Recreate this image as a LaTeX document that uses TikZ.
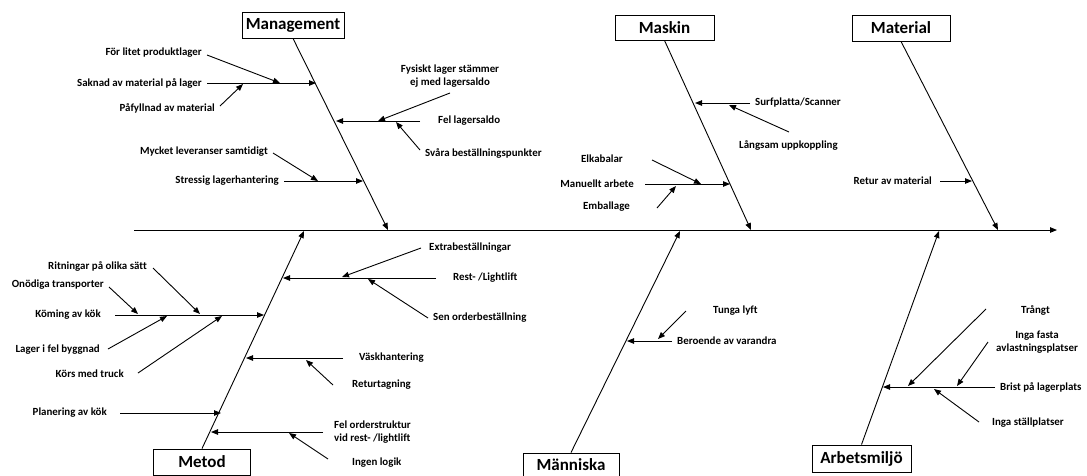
\documentclass[tikz,border=0pt]{standalone}
\usepackage{fontspec}
\setmainfont{Carlito}[Ligatures={NoCommon,NoRequired,NoContextual}]
\usetikzlibrary{arrows.meta}
\begin{document}
\begin{tikzpicture}[x=1pt,y=-1pt,
  line/.style={line width=0.9pt},
  arr/.style={line, -{Triangle[length=7pt,width=5.5pt]}},
  cat/.style={draw, line width=0.9pt, inner sep=0pt, font=\bfseries\fontsize{17}{19}\selectfont},
  lbl/.style={inner sep=0pt, font=\bfseries\fontsize{10.9}{13}\selectfont},
]
\useasboundingbox (0,0) rectangle (1087,475);

% category boxes
\node[cat, minimum width=102pt, minimum height=26pt] (mgmt) at (293,25) {Management};
\node[cat, minimum width=99pt, minimum height=25pt] (mask) at (664.5,27.5) {Maskin};
\node[cat, minimum width=98pt, minimum height=26pt] (matr) at (901,28) {Material};
\node[cat, minimum width=97pt, minimum height=26pt] (meto) at (202,462) {Metod};
\node[cat, minimum width=96pt, minimum height=24pt] (mann) at (571,465) {Människa};
\node[cat, minimum width=99pt, minimum height=27pt] (arbm) at (861.5,458.5) {Arbetsmiljö};

% main spine
\coordinate (s0) at (134,230);
\coordinate (s1) at (1057,230);
\draw[arr] (s0) -- (s1);

% bones
\coordinate (tmg) at (388,230);
\coordinate (tma) at (751,230);
\coordinate (tmt) at (998,230);
\coordinate (tme) at (304,231);
\coordinate (tmn) at (680,231);
\coordinate (tar) at (939,231);
\draw[arr] (mgmt.south) -- (tmg);
\draw[arr] (mask.south) -- (tma);
\draw[arr] (matr.south) -- (tmt);
\draw[arr] (meto.north) -- (tme);
\draw[arr] (mann.north) -- (tmn);
\draw[arr] (arbm.north) -- (tar);

% ---- Management ----
\node[lbl, anchor=east] (fl) at (202,53) {För litet produktlager};
\node[lbl, anchor=east] (sak) at (202,83) {Saknad av material på lager};
\node[lbl, anchor=east] (paf) at (215,108) {Påfyllnad av material};
\node[lbl, align=center] (fys) at (450,76) {Fysiskt lager stämmer\\ej med lagersaldo};
\node[lbl, anchor=west] (fel) at (438,121) {Fel lagersaldo};
\node[lbl, anchor=west] (sva) at (425,153) {Svåra beställningspunkter};
\node[lbl, anchor=east] (myc) at (268,152) {Mycket leveranser samtidigt};
\node[lbl, anchor=east] (str) at (279,181) {Stressig lagerhantering};

\coordinate (sak0) at (207,83);  \coordinate (sak1) at (316,83);
\coordinate (fl0) at (207,55);   \coordinate (fl1) at (280,83);
\coordinate (paf0) at (220,106); \coordinate (paf1) at (243,84);
\coordinate (fys0) at (450,93);  \coordinate (fys1) at (378,121);
\coordinate (fel0) at (420,121); \coordinate (fel1) at (336,121);
\coordinate (sva0) at (420,150); \coordinate (sva1) at (396,122);
\coordinate (str0) at (284,181); \coordinate (str1) at (363,181);
\coordinate (myc0) at (273,153); \coordinate (myc1) at (318,181);
\foreach \n in {sak,fl,paf,fys,fel,sva,str,myc} \draw[arr] (\n0) -- (\n1);

% ---- Maskin ----
\node[lbl, anchor=west] (sur) at (755,103) {Surfplatta/Scanner};
\node[lbl, anchor=west] (lan) at (739,145) {Långsam uppkoppling};
\node[lbl, anchor=east] (man) at (634,184) {Manuellt arbete};
\node[lbl, anchor=east] (elk) at (623,159) {Elkabalar};
\node[lbl, anchor=east] (emb) at (630,207) {Emballage};

\coordinate (sur0) at (750,103); \coordinate (sur1) at (695,103);
\coordinate (lan0) at (789,132); \coordinate (lan1) at (729,105);
\coordinate (man0) at (645,184); \coordinate (man1) at (730,184);
\coordinate (elk0) at (652,160); \coordinate (elk1) at (701,184);
\coordinate (emb0) at (657,208); \coordinate (emb1) at (676,186);
\foreach \n in {sur,lan,man,elk,emb} \draw[arr] (\n0) -- (\n1);

% ---- Material ----
\node[lbl, anchor=east] (ret) at (932,181) {Retur av material};
\coordinate (ret0) at (940,181); \coordinate (ret1) at (972,181);
\draw[arr] (ret0) -- (ret1);

% ---- Metod ----
\node[lbl, anchor=east] (kom) at (101,315) {Köming av kök};
\node[lbl, anchor=east] (ono) at (104,285) {Onödiga transporter};
\node[lbl, anchor=east] (rit) at (147,266) {Ritningar på olika sätt};
\node[lbl, anchor=east] (lag) at (100,350) {Lager i fel byggnad};
\node[lbl, anchor=east] (kor) at (124,374) {Körs med truck};
\node[lbl, anchor=east] (pla) at (107,413) {Planering av kök};
\node[lbl, anchor=west] (res) at (453,278) {Rest- /Lightlift};
\node[lbl, anchor=west] (ext) at (429,248) {Extrabeställningar};
\node[lbl, anchor=west] (sen) at (433,318) {Sen orderbeställning};
\node[lbl, anchor=west] (vas) at (359,358) {Väskhantering};
\node[lbl, anchor=west] (rtg) at (352,385) {Returtagning};
\node[lbl, anchor=west, align=left] (fos) at (334,432) {Fel orderstruktur\\vid rest- /lightlift};
\node[lbl, anchor=west] (ing) at (352,463) {Ingen logik};

\coordinate (kom0) at (115,315); \coordinate (kom1) at (264,315);
\coordinate (ono0) at (109,287); \coordinate (ono1) at (138,314);
\coordinate (rit0) at (153,268); \coordinate (rit1) at (200,314);
\coordinate (lag0) at (108,349); \coordinate (lag1) at (167,316);
\coordinate (kor0) at (138,373); \coordinate (kor1) at (222,316);
\coordinate (pla0) at (120,413); \coordinate (pla1) at (221,413);
\coordinate (res0) at (436,278); \coordinate (res1) at (283,278);
\coordinate (ext0) at (421,248); \coordinate (ext1) at (342,277);
\coordinate (sen0) at (428,318); \coordinate (sen1) at (368,279);
\coordinate (vas0) at (343,358); \coordinate (vas1) at (246,358);
\coordinate (rtg0) at (333,385); \coordinate (rtg1) at (306,360);
\coordinate (fos0) at (323,432); \coordinate (fos1) at (211,432);
\coordinate (ing0) at (328,459); \coordinate (ing1) at (289,433);
\foreach \n in {kom,ono,rit,lag,kor,pla,res,ext,sen,vas,rtg,fos,ing} \draw[arr] (\n0) -- (\n1);

% ---- Människa ----
\node[lbl, anchor=west] (ber) at (677,341) {Beroende av varandra};
\node[lbl, anchor=west] (tun) at (713,311) {Tunga lyft};
\coordinate (ber0) at (672,341); \coordinate (ber1) at (627,341);
\coordinate (tun0) at (686,311); \coordinate (tun1) at (658,339);
\foreach \n in {ber,tun} \draw[arr] (\n0) -- (\n1);

% ---- Arbetsmiljö ----
\node[lbl, anchor=west] (bri) at (1000,387) {Brist på lagerplats};
\node[lbl, anchor=west] (tra) at (1021,310) {Trångt};
\node[lbl, align=center] (ifa) at (1037,342) {Inga fasta\\avlastningsplatser};
\node[lbl, anchor=west] (ist) at (992,423) {Inga ställplatser};
\coordinate (bri0) at (995,387); \coordinate (bri1) at (883,387);
\coordinate (tra0) at (986,309); \coordinate (tra1) at (908,386);
\coordinate (ifa0) at (988,342); \coordinate (ifa1) at (957,386);
\coordinate (ist0) at (979,422); \coordinate (ist1) at (934,389);
\foreach \n in {bri,tra,ifa,ist} \draw[arr] (\n0) -- (\n1);
\end{tikzpicture}
\end{document}
